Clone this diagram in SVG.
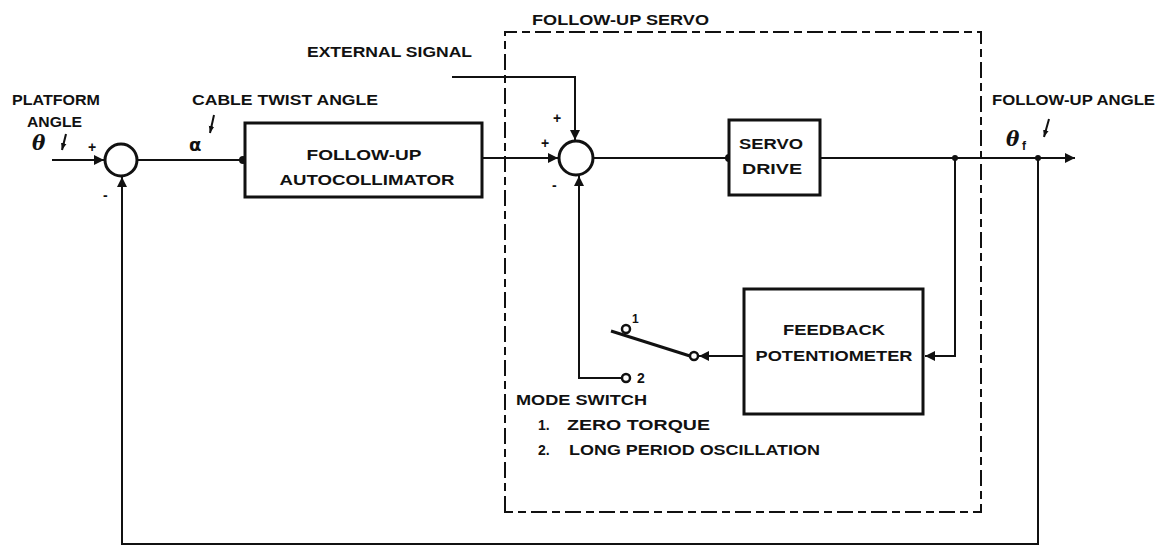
<svg xmlns="http://www.w3.org/2000/svg" width="1163" height="547" viewBox="0 0 1163 547">
<style>
text{font-family:"Liberation Sans",Arial,sans-serif;font-weight:bold;font-size:14px;fill:#111}
.ln{stroke:#111;stroke-width:2;fill:none}
.bx{stroke:#111;stroke-width:3;fill:#fff}
.sum{stroke:#111;stroke-width:3;fill:#fff}
.dash{stroke:#111;stroke-width:2;fill:none;stroke-dasharray:16 5 8 5}
.sym{font-family:"DejaVu Serif","Liberation Serif",serif;font-style:italic;font-size:20px}
.pm{font-size:14px}
</style>
<defs>
<marker id="ah" viewBox="0 0 10 10" refX="10" refY="5" markerWidth="10" markerHeight="10" markerUnits="userSpaceOnUse" orient="auto">
<path d="M0,0 L10,5 L0,10 z" fill="#111"/>
</marker>
<marker id="sa" viewBox="0 0 10 10" refX="10" refY="5" markerWidth="7" markerHeight="7" markerUnits="userSpaceOnUse" orient="auto">
<path d="M0,1 L10,5 L0,9 z" fill="#111"/>
</marker>
</defs>

<g id="connectors">
<line class="ln" x1="52" y1="160" x2="104" y2="160" marker-end="url(#ah)"/>
<line class="ln" x1="137" y1="160" x2="243" y2="160"/>
<line class="ln" x1="482" y1="158" x2="558" y2="158" marker-end="url(#ah)"/>
<polyline class="ln" points="452,77 575,77 575,140" marker-end="url(#ah)"/>
<line class="ln" x1="593" y1="158" x2="729" y2="158"/>
<line class="ln" x1="820" y1="158" x2="1075" y2="158" marker-end="url(#ah)"/>
<polyline class="ln" points="955,158 955,356 925,356" marker-end="url(#ah)"/>
<line class="ln" x1="744" y1="356" x2="699" y2="356" marker-end="url(#ah)"/>
<polyline class="ln" points="622,378 579,378 579,176" marker-end="url(#ah)"/>
<polyline class="ln" points="1038,158 1038,544 122,544 122,177" marker-end="url(#ah)"/>
<circle cx="243" cy="160" r="4" fill="#111"/>
<circle cx="729" cy="158" r="4" fill="#111"/>
<circle cx="955" cy="158" r="3" fill="#111"/>
<circle cx="1038" cy="158" r="3" fill="#111"/>
</g>

<g id="follow-up-servo">
<path class="dash" d="M505,512 L505,32 L981,32 L981,512 Z"/>
<text x="532" y="25" textLength="177" lengthAdjust="spacingAndGlyphs">FOLLOW-UP  SERVO</text>
</g>

<g id="sum1">
<circle class="sum" cx="121" cy="160" r="16"/>
<text class="pm" x="88" y="152">+</text>
<text class="pm" x="103" y="200">-</text>
</g>

<g id="autocollimator">
<rect class="bx" x="245" y="123" width="237" height="74"/>
<text x="364" y="160" text-anchor="middle" textLength="115" lengthAdjust="spacingAndGlyphs">FOLLOW-UP</text>
<text x="367" y="185" text-anchor="middle" textLength="175" lengthAdjust="spacingAndGlyphs">AUTOCOLLIMATOR</text>
</g>

<g id="sum2">
<circle class="sum" cx="576" cy="158" r="17"/>
<text class="pm" x="553" y="123">+</text>
<text class="pm" x="541" y="148">+</text>
<text class="pm" x="552" y="190">-</text>
</g>

<g id="servo-drive">
<rect class="bx" x="729" y="120" width="91" height="75"/>
<text x="771" y="149" text-anchor="middle" textLength="64" lengthAdjust="spacingAndGlyphs">SERVO</text>
<text x="772" y="174" text-anchor="middle" textLength="60" lengthAdjust="spacingAndGlyphs">DRIVE</text>
</g>

<g id="feedback-potentiometer">
<rect class="bx" x="744" y="289" width="179" height="125"/>
<text x="834" y="335" text-anchor="middle" textLength="102" lengthAdjust="spacingAndGlyphs">FEEDBACK</text>
<text x="834" y="361" text-anchor="middle" textLength="157" lengthAdjust="spacingAndGlyphs">POTENTIOMETER</text>
</g>

<g id="mode-switch">
<line x1="611" y1="331" x2="690" y2="356" stroke="#111" stroke-width="3"/>
<circle cx="694" cy="356" r="4" fill="#fff" stroke="#111" stroke-width="2.5"/>
<circle cx="626" cy="329" r="4" fill="#fff" stroke="#111" stroke-width="2.5"/>
<circle cx="626" cy="378" r="4" fill="#fff" stroke="#111" stroke-width="2.5"/>
<text x="632" y="323" style="font-size:12px">1</text>
<text x="637" y="383">2</text>
<text x="516" y="405" textLength="131" lengthAdjust="spacingAndGlyphs">MODE  SWITCH</text>
<text x="538" y="430">1.</text>
<text x="567" y="430" textLength="143" lengthAdjust="spacingAndGlyphs">ZERO  TORQUE</text>
<text x="538" y="455">2.</text>
<text x="569" y="455" textLength="251" lengthAdjust="spacingAndGlyphs">LONG PERIOD OSCILLATION</text>
</g>

<g id="labels">
<text x="12" y="105" textLength="88" lengthAdjust="spacingAndGlyphs">PLATFORM</text>
<text x="27" y="127" textLength="55" lengthAdjust="spacingAndGlyphs">ANGLE</text>
<text class="sym" x="32" y="150">θ</text>
<line class="ln" x1="66" y1="134" x2="62" y2="150" marker-end="url(#sa)"/>
<text x="192" y="105" textLength="186" lengthAdjust="spacingAndGlyphs">CABLE  TWIST ANGLE</text>
<text x="189" y="151" style="font-family:'DejaVu Sans','Liberation Sans',sans-serif;font-size:18px">α</text>
<line class="ln" x1="214" y1="115" x2="210" y2="133" marker-end="url(#sa)"/>
<text x="307" y="57" textLength="165" lengthAdjust="spacingAndGlyphs">EXTERNAL  SIGNAL</text>
<text x="992" y="105" textLength="163" lengthAdjust="spacingAndGlyphs">FOLLOW-UP ANGLE</text>
<text class="sym" x="1006" y="146">θ</text>
<text x="1022" y="150" style="font-size:12px">f</text>
<line class="ln" x1="1049" y1="119" x2="1044" y2="137" marker-end="url(#sa)"/>
</g>
</svg>
